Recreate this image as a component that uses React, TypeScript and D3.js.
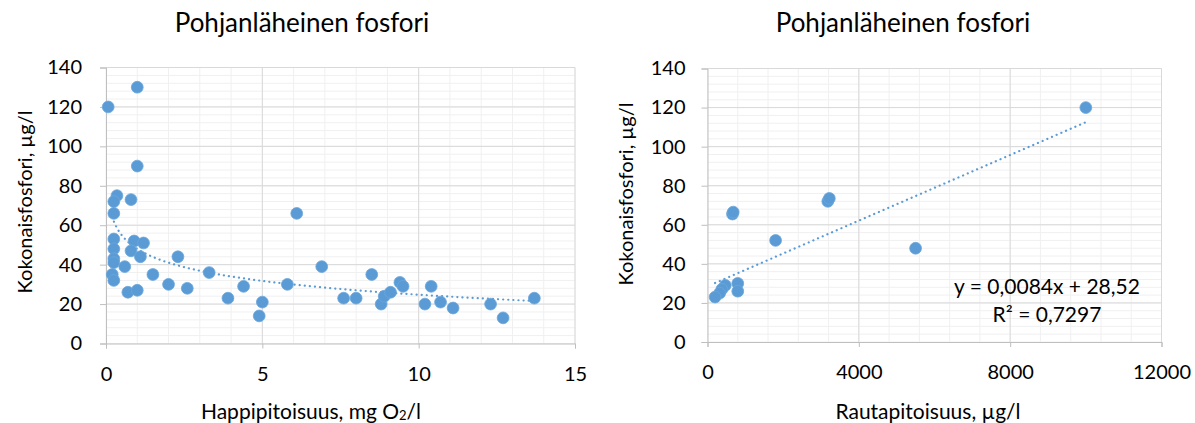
import React, { useEffect, useRef } from 'react';
import * as d3 from 'd3';

// Happipitoisuus (mg O2/l) vs kokonaisfosfori (µg/l)
const oxygenX = [
  0.07, 1.0, 1.0, 0.35, 0.25, 0.8, 0.25, 0.25, 0.25, 0.9, 1.2, 0.8, 1.1, 0.25, 0.25,
  0.6, 2.3, 1.5, 0.2, 0.25, 0.7, 1.0, 2.0, 2.6, 3.3, 3.9, 4.4, 5.0, 4.9, 5.8, 6.1,
  6.9, 7.6, 8.0, 8.5, 8.8, 8.9, 9.1, 9.4, 9.5, 10.2, 10.4, 10.7, 11.1, 12.3, 12.7, 13.7,
];
const oxygenP = [
  120, 130, 90, 75, 72, 73, 66, 53, 48, 52, 51, 47, 44, 43, 41,
  39, 44, 35, 35, 32, 26, 27, 30, 28, 36, 23, 29, 21, 14, 30, 66,
  39, 23, 23, 35, 20, 24, 26, 31, 29, 20, 29, 21, 18, 20, 13, 23,
];
// log trendline: y = a + b ln x
const oxyTrendA = 48;
const oxyTrendB = -10.1;
const oxyTrendRange = [0.2, 13.7];

// Rautapitoisuus (µg/l) vs kokonaisfosfori (µg/l)
const ironX = [660, 680, 3180, 3220, 1800, 5500, 800, 800, 470, 380, 320, 200, 10000];
const ironP = [65.5, 66.5, 72, 73.5, 52, 48, 30, 26, 29, 27, 25, 23, 120];
const ironSlope = 0.0084;
const ironIntercept = 28.52;

const yTicks = [0, 20, 40, 60, 80, 100, 120, 140];
const oxyTicks = [0, 5, 10, 15];
const ironTicks = [0, 4000, 8000, 12000];

const FONT = 'Lato, "Noto Sans", sans-serif';
const BLUE = '#5b9bd5';

type Panel = {
  left: number; right: number; top: number; bottom: number;
  xMax: number; xTicks: number[]; xMinorStep: number; yPad: number;
  xs: number[]; ys: number[];
  trend: [number, number][];
};

function drawPanel(svg: d3.Selection<SVGSVGElement, unknown, null, undefined>, p: Panel) {
  const x = d3.scaleLinear().domain([0, p.xMax]).range([p.left, p.right]);
  const y = d3.scaleLinear().domain([0, 140]).range([p.bottom, p.top]);
  const g = svg.append('g');

  // minor grid
  const minorX = d3.range(0, p.xMax + 1e-9, p.xMinorStep);
  const minorY = d3.range(0, 140.01, 4);
  g.selectAll('.mx').data(minorX).enter().append('line')
    .attr('x1', d => x(d)).attr('x2', d => x(d)).attr('y1', p.top).attr('y2', p.bottom)
    .attr('stroke', '#f0f0f0').attr('stroke-width', 1);
  g.selectAll('.my').data(minorY).enter().append('line')
    .attr('x1', p.left).attr('x2', p.right).attr('y1', d => y(d)).attr('y2', d => y(d))
    .attr('stroke', '#f0f0f0').attr('stroke-width', 1);
  // major grid
  g.selectAll('.Mx').data(p.xTicks.slice(1)).enter().append('line')
    .attr('x1', d => x(d)).attr('x2', d => x(d)).attr('y1', p.top).attr('y2', p.bottom)
    .attr('stroke', '#d9d9d9').attr('stroke-width', 1);
  g.selectAll('.My').data(yTicks.slice(1)).enter().append('line')
    .attr('x1', p.left).attr('x2', p.right).attr('y1', d => y(d)).attr('y2', d => y(d))
    .attr('stroke', '#d9d9d9').attr('stroke-width', 1);

  // axes
  const xAxis = d3.axisBottom(x).tickValues(p.xTicks).tickSize(5).tickPadding(18)
    .tickFormat(d => String(d));
  const ax = g.append('g').attr('transform', `translate(0,${p.bottom})`).call(xAxis);
  const yAxis = d3.axisLeft(y).tickValues(yTicks).tickSize(6).tickPadding(p.yPad);
  const ay = g.append('g').attr('transform', `translate(${p.left},0)`).call(yAxis);
  [ax, ay].forEach(a => {
    a.select('.domain').attr('stroke', '#bfbfbf');
    a.selectAll('.tick line').attr('stroke', '#bfbfbf');
    a.selectAll('text').attr('font-family', FONT).attr('font-size', 20).attr('fill', '#000');
  });

  // trendline
  const line = d3.line<[number, number]>().x(d => x(d[0])).y(d => y(d[1]));
  g.append('path').attr('d', line(p.trend) || '')
    .attr('fill', 'none').attr('stroke', BLUE).attr('stroke-width', 2.2)
    .attr('stroke-dasharray', '0.1 5').attr('stroke-linecap', 'round');

  // points
  g.selectAll('.pt').data(p.xs).enter().append('circle')
    .attr('cx', d => x(d)).attr('cy', (_, i) => y(p.ys[i])).attr('r', 5.9)
    .attr('fill', BLUE).attr('stroke', '#6aa6dc').attr('stroke-width', 0.8);
}

const App = () => {
  const svgRef = useRef<SVGSVGElement>(null);

  useEffect(() => {
    const svg = d3.select(svgRef.current!);
    svg.selectAll('*').remove();

    const oxyTrend: [number, number][] = d3.range(0, 201).map(i => {
      const t = oxyTrendRange[0] * Math.pow(oxyTrendRange[1] / oxyTrendRange[0], i / 200);
      return [t, oxyTrendA + oxyTrendB * Math.log(t)];
    });
    const ironMin = d3.min(ironX)!;
    const ironMax = d3.max(ironX)!;
    const ironTrend: [number, number][] = [ironMin, ironMax].map(v => [v, ironSlope * v + ironIntercept]);

    drawPanel(svg, {
      left: 106, right: 575, top: 67.5, bottom: 343.5, xMax: 15, xTicks: oxyTicks, xMinorStep: 1, yPad: 18,
      xs: oxygenX, ys: oxygenP, trend: oxyTrend,
    });
    drawPanel(svg, {
      left: 707.5, right: 1161.5, top: 68.5, bottom: 342, xMax: 12000, xTicks: ironTicks, xMinorStep: 800, yPad: 16,
      xs: ironX, ys: ironP, trend: ironTrend,
    });

    const txt = (xp: number, yp: number, s: string, size: number, rot = 0) =>
      svg.append('text').attr('x', xp).attr('y', yp).attr('text-anchor', 'middle')
        .attr('dominant-baseline', 'central').attr('font-family', FONT).attr('font-size', size)
        .attr('fill', '#000').attr('transform', rot ? `rotate(${rot},${xp},${yp})` : null).text(s);

    txt(302, 22, 'Pohjanläheinen fosfori', 26);
    txt(903, 22, 'Pohjanläheinen fosfori', 26);
    txt(24, 202, 'Kokonaisfosfori, µg/l', 20, -90);
    txt(625, 194, 'Kokonaisfosfori, µg/l', 20, -90);
    txt(928, 410, 'Rautapitoisuus, µg/l', 21);

    const xt = svg.append('text').attr('x', 311).attr('y', 410).attr('text-anchor', 'middle')
      .attr('dominant-baseline', 'central').attr('font-family', FONT).attr('font-size', 21).attr('fill', '#000');
    xt.append('tspan').text('Happipitoisuus, mg O');
    xt.append('tspan').attr('font-size', 13).attr('dy', 5).text('2');
    xt.append('tspan').attr('dy', -5).text('/l');

    txt(1047, 285, `y = ${String(ironSlope).replace('.', ',')}x + ${String(ironIntercept).replace('.', ',')}`, 21);
    txt(1047, 313, 'R² = 0,7297', 21);
  }, []);

  return (
    <svg ref={svgRef} width={1195} height={423}
      style={{ display: 'block', position: 'absolute', left: 0, top: 0 }} />
  );
};

export default App;
